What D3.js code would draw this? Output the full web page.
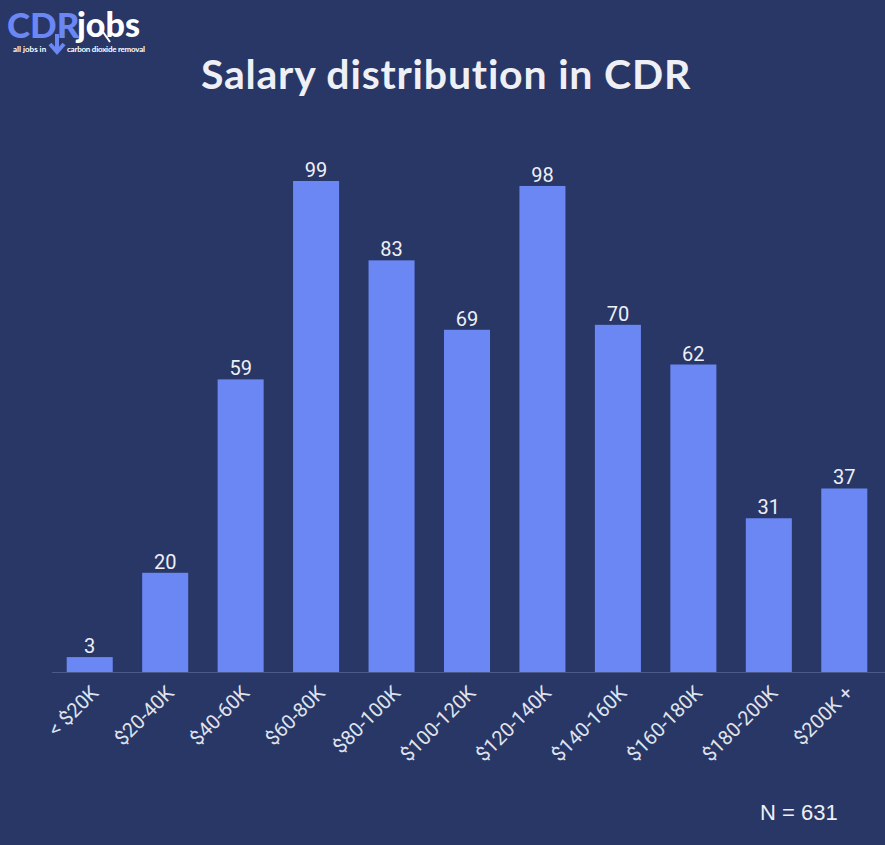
<!DOCTYPE html>
<html>
<head>
<meta charset="utf-8">
<script src="https://cdn.jsdelivr.net/npm/d3@7"></script>
<style>
  body { margin: 0; background: #293766; }
  svg { display: block; }
</style>
</head>
<body>
<div id="chart"></div>
<script>
// salary bands and number of jobs in each
const categories = ["< $20K", "$20-40K", "$40-60K", "$60-80K", "$80-100K", "$100-120K",
  "$120-140K", "$140-160K", "$160-180K", "$180-200K", "$200K +"];
const counts = [3, 20, 59, 99, 83, 69, 98, 70, 62, 31, 37];
const totalN = 631;

const width = 885, height = 845;
const bg = "#293766", barColor = "#6b87f4";

let svg = d3.select('#chart').append('svg')
    .attr('width', width).attr('height', height);

svg.append('rect').attr('width', width).attr('height', height).attr('fill', bg);

// logo
let logo = svg.append('g');
logo.append('text')
    .attr('x', 7).attr('y', 38)
    .attr('font-family', 'Lato, sans-serif').attr('font-weight', 900)
    .attr('font-size', 35).attr('fill', barColor)
    .text('CDR');
logo.append('text')
    .attr('x', 77).attr('y', 37)
    .attr('font-family', 'Lato, sans-serif').attr('font-weight', 900)
    .attr('font-size', 34).attr('fill', '#ffffff')
    .text('jobs');
logo.append('path')
    .attr('d', 'M 57 34 L 57 50 M 50 44 L 57 52 L 64 44')
    .attr('stroke', barColor).attr('stroke-width', 4).attr('fill', 'none');
logo.append('line')
    .attr('x1', 103).attr('y1', 32).attr('x2', 110).attr('y2', 42)
    .attr('stroke', '#ffffff').attr('stroke-width', 2);
logo.append('text')
    .attr('x', 13).attr('y', 52)
    .attr('font-family', 'Lato, sans-serif').attr('font-weight', 700)
    .attr('font-size', 8).attr('fill', '#ffffff')
    .text('all jobs in');
logo.append('text')
    .attr('x', 67).attr('y', 52)
    .attr('font-family', 'Lato, sans-serif').attr('font-weight', 700)
    .attr('font-size', 8).attr('fill', '#ffffff')
    .attr('textLength', 78)
    .text('carbon dioxide removal');

// title
svg.append('text')
    .attr('x', 446).attr('y', 89)
    .attr('text-anchor', 'middle')
    .attr('font-family', 'Lato, sans-serif').attr('font-weight', 700)
    .attr('font-size', 41).attr('letter-spacing', 0.8)
    .attr('fill', '#eef0f6')
    .text('Salary distribution in CDR');

// scales
let x = d3.scaleBand()
    .domain(categories)
    .range([52, 882])
    .paddingInner(0.39)
    .paddingOuter(0.195);

let y = d3.scaleLinear()
    .domain([0, d3.max(counts)])
    .range([672, 181]);

let data = categories.map((c, i) => ({ cat: c, v: counts[i] }));

// bars
svg.selectAll('.bar')
    .data(data)
    .enter().append('rect')
    .attr('class', 'bar')
    .attr('x', d => x(d.cat))
    .attr('y', d => y(d.v))
    .attr('width', x.bandwidth())
    .attr('height', d => y(0) - y(d.v))
    .attr('fill', barColor);

// value labels
svg.selectAll('.bar-label')
    .data(data)
    .enter().append('text')
    .attr('class', 'bar-label')
    .attr('x', d => x(d.cat) + x.bandwidth() / 2)
    .attr('y', d => y(d.v) - 4)
    .attr('text-anchor', 'middle')
    .attr('font-family', 'Roboto, sans-serif')
    .attr('font-size', 20).attr('fill', '#eef0f6')
    .text(d => d.v);

// x axis
let xAxis = svg.append('g')
    .attr('transform', 'translate(0,' + y(0) + ')')
    .call(d3.axisBottom(x).tickSize(0).tickSizeOuter(0));

xAxis.select('.domain')
    .attr('stroke', '#4b5a88').attr('stroke-width', 1)
    .attr('d', 'M52,0.5H885');

xAxis.selectAll('text')
    .attr('font-family', 'Roboto, sans-serif')
    .attr('font-size', 20)
    .attr('fill', '#dfe3ee')
    .attr('text-anchor', 'end')
    .attr('dy', 0)
    .attr('y', 0)
    .attr('transform', 'translate(10,22) rotate(-45)');

// N label
svg.append('text')
    .attr('x', 760).attr('y', 820)
    .attr('font-family', 'Liberation Sans, Arial, sans-serif')
    .attr('font-size', 22).attr('fill', '#eef0f6')
    .text('N = ' + totalN);
</script>
</body>
</html>
